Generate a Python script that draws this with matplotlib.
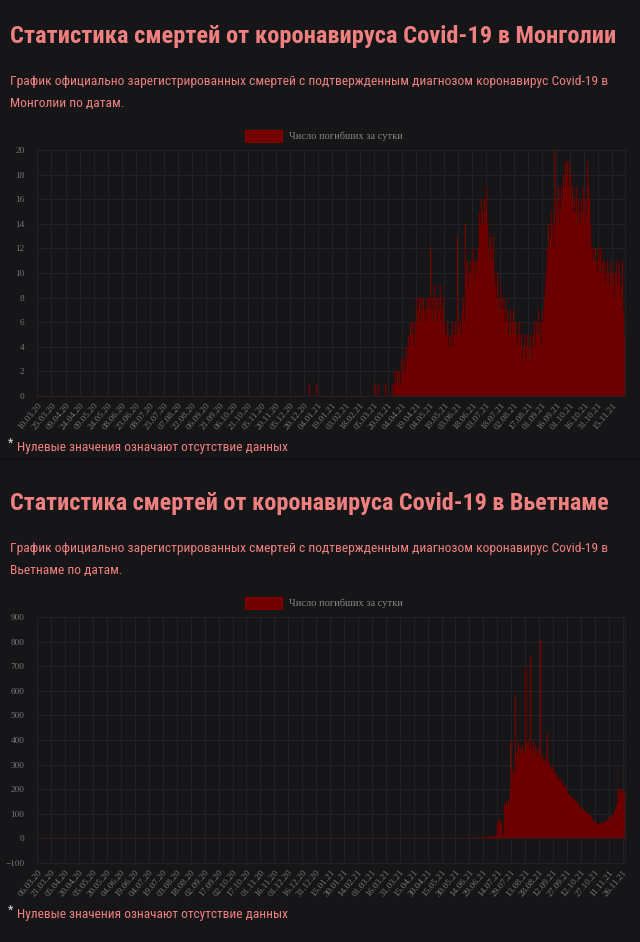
import matplotlib
matplotlib.use('Agg')
import matplotlib.pyplot as plt
from matplotlib import font_manager
from matplotlib.patches import Rectangle
import numpy as np
import pandas as pd

# Mongolia: daily deaths, series starts 10.03.20
mn_start = '2020-03-10'
mn_end = '2021-11-28'
mn_early = {'2020-12-26': 1, '2021-01-02': 1, '2021-03-05': 1, '2021-03-07': 1,
            '2021-03-10': 1, '2021-03-17': 1, '2021-03-20': 1}
mn_main_start = '2021-03-25'
mn_main = [
    1, 0, 1, 2, 1, 2, 1,
    2, 1, 3, 2, 4, 2, 3,
    2, 4, 3, 5, 4, 6, 5,
    6, 5, 4, 6, 8, 5, 6,
    7, 8, 6, 8, 7, 8, 7,
    6, 8, 7, 8, 7, 12, 8,
    7, 8, 6, 9, 7, 8, 6,
    8, 7, 9, 6, 7, 8, 6,
    5, 4, 5, 6, 4, 5, 4,
    5, 6, 4, 5, 6, 5, 13,
    6, 5, 7, 6, 5, 7, 8,
    6, 14, 10, 11, 9, 10, 11,
    10, 12, 11, 10, 9, 11, 10,
    11, 12, 15, 14, 16, 15, 14,
    16, 15, 17, 14, 12, 13, 11,
    13, 12, 11, 13, 10, 9, 8,
    10, 8, 7, 9, 7, 8, 6,
    7, 6, 8, 6, 7, 5, 6,
    7, 5, 6, 7, 5, 6, 5,
    6, 4, 5, 6, 4, 5, 3,
    4, 5, 3, 4, 5, 3, 4,
    5, 4, 6, 3, 5, 6, 4,
    6, 5, 7, 5, 6, 4, 7,
    6, 8, 9, 11, 10, 12, 14,
    12, 13, 15, 14, 12, 20, 14,
    16, 15, 17, 14, 16, 15, 17,
    16, 18, 17, 19, 18, 19, 17,
    19, 18, 16, 17, 15, 16, 14,
    15, 17, 14, 16, 15, 14, 16,
    15, 17, 14, 16, 15, 19, 17,
    18, 16, 14, 12, 11, 12, 11,
    12, 11, 10, 12, 11, 12, 10,
    11, 12, 10, 11, 9, 10, 11,
    10, 9, 11, 10, 9, 10, 8,
    10, 11, 9, 10, 11, 10, 8,
    9, 11, 7, 5,
]

# Vietnam: daily deaths, series starts 06.03.20
vn_start = '2020-03-06'
vn_end = '2021-11-28'
vn_2020_start = '2020-07-31'
vn_2020 = [1, 0, 1, 0, 1, 1, 1, 2, 1, 3, 0, 2, 1, 3, 2, 1, 1, 1,
           2, 0, 1, 2, 1, 1, 0, 1, 1, 0, 1, 0, 1, 0, 1, 0, 1]
vn_main_start = '2021-05-15'
vn_main = [
    0, 1, 0, 1, 0, 1, 0,
    1, 0, 1, 1, 0, 1, 2,
    0, 1, 1, 2, 0, 1, 1,
    2, 1, 0, 2, 1, 1, 2,
    1, 2, 1, 3, 1, 2, 2,
    1, 3, 2, 2, 4, 1, 3,
    2, 3, 4, 2, 5, 3, 4,
    5, 3, 6, 4, 7, 5, 8,
    6, 9, 8, 12, 65, 72, 80,
    68, 75, 60, 12, 9, 145, 130,
    150, 140, 160, 135, 394, 200, 280,
    250, 300, 270, 577, 330, 360, 390,
    340, 370, 350, 380, 360, 340, 699,
    390, 690, 380, 390, 360, 740, 370,
    350, 390, 340, 380, 360, 330, 370,
    350, 340, 807, 330, 340, 310, 320,
    300, 345, 430, 310, 290, 300, 280,
    290, 270, 280, 260, 270, 250, 240,
    250, 230, 240, 220, 230, 215, 210,
    220, 200, 190, 185, 175, 180, 170,
    165, 160, 170, 150, 155, 145, 150,
    140, 135, 130, 125, 120, 118, 115,
    110, 112, 105, 100, 98, 95, 92,
    85, 80, 76, 72, 68, 64, 60,
    58, 60, 56, 62, 58, 65, 63,
    66, 70, 68, 72, 75, 78, 80,
    85, 90, 95, 100, 110, 120, 135,
    150, 290, 200, 185, 195, 180, 200,
    190, 185,
]

titles = ['Статистика смертей от коронавируса Covid-19 в Монголии',
          'Статистика смертей от коронавируса Covid-19 в Вьетнаме']
sub1 = 'График официально зарегистрированных смертей с подтвержденным диагнозом коронавирус Covid-19 в'
sub2 = ['Монголии по датам.', 'Вьетнаме по датам.']
legend_label = 'Число погибших за сутки'
footnote = 'Нулевые значения означают отсутствие данных'


def build(start, end, parts):
    dates = pd.date_range(start, end, freq='D')
    s = pd.Series(0, index=dates, dtype=float)
    for p_start, vals in parts:
        i = dates.get_loc(pd.Timestamp(p_start))
        n = min(len(vals), len(dates) - i)
        s.iloc[i:i + n] = vals[:n]
    return s


mn = build(mn_start, mn_end, [(mn_main_start, mn_main)])
for d, v in mn_early.items():
    mn[pd.Timestamp(d)] = v
vn = build(vn_start, vn_end, [(vn_2020_start, vn_2020), (vn_main_start, vn_main)])

names = {f.name for f in font_manager.fontManager.ttflist}


def pick(*cands):
    for c in cands:
        if c in names:
            return c
    return 'DejaVu Sans'


narrow = pick('Liberation Sans Narrow', 'Roboto Condensed', 'Open Sans Condensed', 'Roboto')
serif = pick('Liberation Serif', 'DejaVu Serif')

W, H = 640, 942
BG = '#161618'
SALMON = '#f08080'
BAR = '#6c0000'
GRID = '#232326'
TICK = '#767676'

fig = plt.figure(figsize=(W / 100, H / 100), dpi=100, facecolor=BG)
renderer = fig.canvas.get_renderer()


def fx(x):
    return x / W


def fy(y):
    return 1 - y / H


def fit_text(x, y, s, width_px, size, **kw):
    t = fig.text(fx(x), fy(y), s, fontsize=size, va='baseline', ha='left', **kw)
    bb = t.get_window_extent(renderer)
    t.set_fontsize(size * width_px / bb.width)
    return t


# thin darker divider between the two blocks
fig.patches.append(Rectangle((0, fy(461)), 1, 3 / H, transform=fig.transFigure,
                             facecolor='#111113', edgecolor='none'))

series = [mn, vn]
ylims = [(0, 20), (-100, 900)]
ysteps = [2, 100]
title_w = [605, 598]
for k in range(2):
    off = 467 * k
    fit_text(10, 43 + off, titles[k], title_w[k], 19, color=SALMON,
             family=narrow, weight='bold')
    fit_text(10, 85 + off, sub1, 600, 10.5, color=SALMON, family=narrow)
    fig.text(fx(10), fy(107 + off), sub2[k], fontsize=fig.texts[-1].get_fontsize(),
             va='baseline', color=SALMON, family=narrow)
    # footnote
    fig.text(fx(8), fy(447 + off), '*', fontsize=9, color='#dddddd', va='baseline', family=narrow)
    fit_text(17, 451 + off, footnote, 270, 11, color=SALMON, family=narrow)

    # legend
    fig.patches.append(Rectangle((fx(245), fy(142 + off)), 37 / W, 12 / H,
                                 transform=fig.transFigure, facecolor='#750000',
                                 edgecolor='#850000', linewidth=0.8))
    fig.text(fx(289), fy(136 + off), legend_label, fontsize=7.5, color='#858585',
             va='center', family=serif)

    s = series[k]
    ax = fig.add_axes([fx(37), fy(396 + off), (625 - 37) / W, 246 / H])
    ax.set_facecolor(BG)
    idx = np.arange(len(s))
    ax.bar(idx, s.values, width=1.0, color=BAR, edgecolor=BAR, linewidth=0.3)
    ax.set_xlim(-0.5, len(s) - 0.5)
    ax.set_ylim(*ylims[k])
    ax.set_yticks(np.arange(ylims[k][0], ylims[k][1] + 1, ysteps[k]))
    ticks = idx[::15]
    ax.set_xticks(ticks)
    ax.set_xticklabels([d.strftime('%d.%m.%y') for d in s.index[ticks]],
                       rotation=50, ha='right', rotation_mode='anchor')
    ax.tick_params(axis='both', length=0, labelsize=6.7, labelcolor=TICK)
    ax.tick_params(axis='y', pad=9)
    ax.tick_params(axis='x', pad=4)
    for lab in ax.get_xticklabels() + ax.get_yticklabels():
        lab.set_family(serif)
    ax.grid(True, color=GRID, linewidth=0.8)
    ax.set_axisbelow(True)
    for sp in ax.spines.values():
        sp.set_color(GRID)
        sp.set_linewidth(0.8)

fig.savefig('out.png', dpi=100, facecolor=BG)
